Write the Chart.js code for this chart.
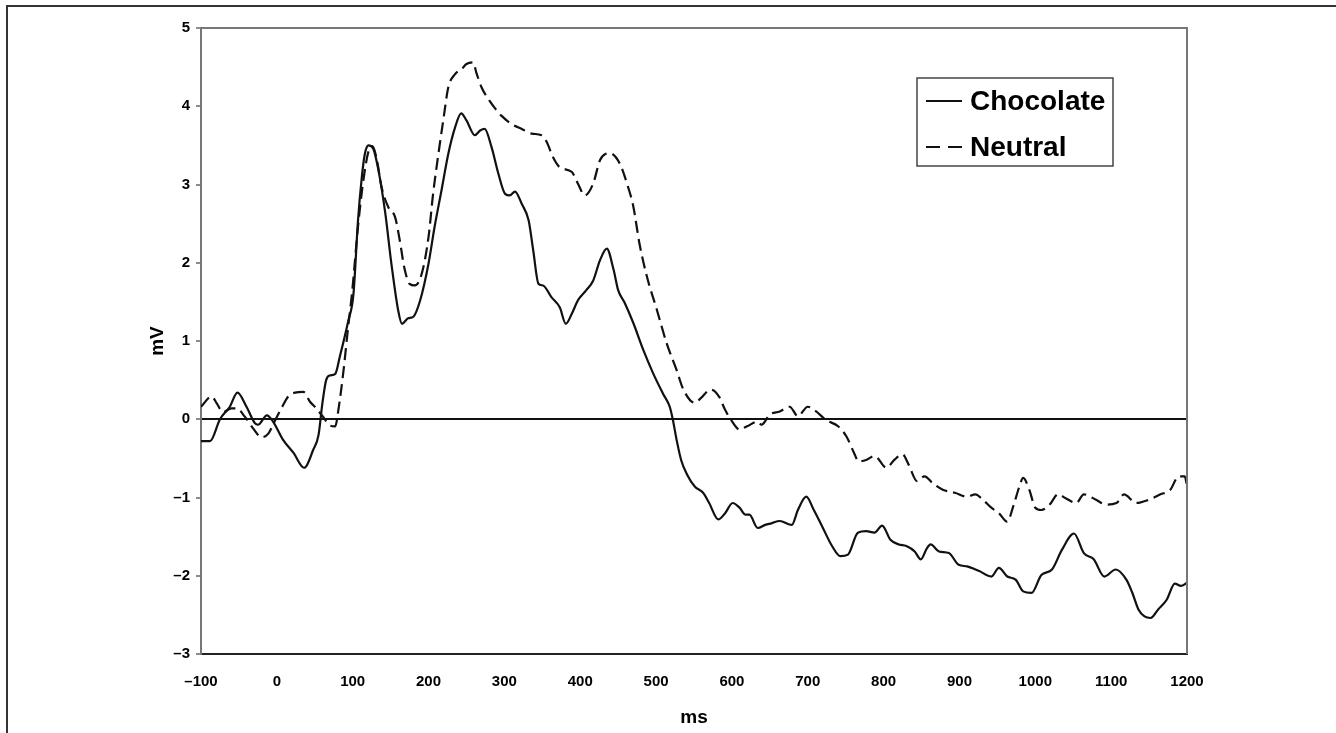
<!DOCTYPE html>
<html><head><meta charset="utf-8">
<script src="https://cdn.jsdelivr.net/npm/chart.js@4.4.1/dist/chart.umd.min.js"></script>
<style>
html,body{margin:0;padding:0;background:#fff;}
#wrap{position:relative;width:1336px;height:733px;overflow:hidden;}
#frame{position:absolute;left:6px;top:5px;right:-4px;bottom:-4px;border-top:2px solid #333;border-left:2px solid #333;pointer-events:none;}
canvas{position:absolute;left:0;top:0;}
</style></head><body>
<div id="wrap"><canvas id="c" width="1336" height="733"></canvas><div id="frame"></div></div>
<script>
// ---- data ----
const seriesLabels = ['Chocolate', 'Neutral'];
const xTickValues = [-100,0,100,200,300,400,500,600,700,800,900,1000,1100,1200];
const yTickValues = [-3,-2,-1,0,1,2,3,4,5];

const chocolateTime = [-100,-88,-75,-62,-52,-40,-29,-25,-13,-5,8,22,36,48,55,60,65,70,77,83,94,101,107,112,116,121,127,134,143,151,160,165,173,180,189,200,208,217,226,235,243,250,261,268,274,283,292,301,307,314,323,332,338,345,351,362,373,381,389,397,408,417,426,435,444,450,459,470,483,496,509,518,522,527,533,541,551,562,570,582,591,601,610,618,623,634,644,652,663,679,687,698,708,719,732,743,753,766,777,788,798,809,820,830,841,849,857,862,873,886,899,910,926,942,952,963,974,984,995,1008,1022,1035,1051,1064,1077,1091,1106,1120,1128,1136,1144,1152,1162,1173,1184,1192,1200];
const chocolateValues = [-0.28,-0.28,0,0.16,0.34,0.16,-0.05,-0.07,0.05,-0.03,-0.26,-0.43,-0.62,-0.39,-0.2,0.2,0.5,0.56,0.58,0.8,1.25,1.6,2.54,3.09,3.39,3.5,3.46,3.18,2.63,1.99,1.39,1.22,1.29,1.31,1.52,1.99,2.46,2.92,3.39,3.73,3.91,3.82,3.63,3.69,3.71,3.48,3.14,2.88,2.86,2.91,2.75,2.54,2.16,1.73,1.71,1.56,1.43,1.22,1.35,1.52,1.65,1.77,2.03,2.18,1.91,1.65,1.48,1.23,0.89,0.59,0.33,0.16,0,-0.26,-0.52,-0.71,-0.86,-0.94,-1.07,-1.28,-1.2,-1.07,-1.13,-1.22,-1.22,-1.39,-1.35,-1.33,-1.3,-1.35,-1.16,-0.99,-1.16,-1.37,-1.62,-1.75,-1.73,-1.45,-1.43,-1.45,-1.36,-1.54,-1.6,-1.62,-1.69,-1.79,-1.65,-1.6,-1.69,-1.71,-1.86,-1.88,-1.94,-2.01,-1.9,-2.01,-2.05,-2.2,-2.22,-1.99,-1.92,-1.67,-1.46,-1.71,-1.79,-2.01,-1.92,-2.05,-2.22,-2.43,-2.52,-2.54,-2.43,-2.31,-2.1,-2.13,-2.09];

const neutralTime = [-100,-86,-79,-71,-60,-53,-42,-31,-20,-11,-2,6,15,24,35,44,52,61,70,77,81,88,94,99,107,114,121,126,132,138,147,156,162,168,175,182,191,200,206,213,220,226,235,244,250,259,263,270,279,288,296,310,323,336,349,356,364,373,389,397,406,417,426,433,439,452,463,470,478,488,501,514,527,536,551,559,572,583,591,599,610,620,634,639,650,663,676,687,700,711,724,740,751,761,767,777,788,804,814,825,833,844,854,865,878,894,910,921,931,942,952,963,971,979,984,992,1000,1008,1019,1030,1040,1054,1064,1080,1093,1107,1117,1133,1149,1165,1178,1189,1197,1200];
const neutralValues = [0.16,0.29,0.2,0.09,0.14,0.14,0.03,-0.12,-0.23,-0.18,-0.01,0.14,0.29,0.34,0.35,0.22,0.14,0.03,-0.08,-0.09,0.11,0.63,1.18,1.6,2.46,3.05,3.43,3.49,3.31,2.97,2.71,2.58,2.29,1.94,1.73,1.71,1.86,2.33,2.88,3.39,3.86,4.24,4.41,4.48,4.54,4.56,4.43,4.24,4.09,3.97,3.88,3.77,3.71,3.65,3.63,3.54,3.35,3.22,3.16,3.01,2.86,3.01,3.31,3.39,3.4,3.27,2.97,2.72,2.25,1.82,1.4,0.97,0.63,0.38,0.21,0.27,0.38,0.29,0.12,-0.01,-0.13,-0.09,-0.03,-0.07,0.06,0.1,0.16,0.04,0.16,0.1,-0.01,-0.09,-0.22,-0.43,-0.54,-0.52,-0.47,-0.62,-0.52,-0.45,-0.58,-0.79,-0.73,-0.82,-0.9,-0.94,-0.99,-0.96,-1.03,-1.13,-1.2,-1.31,-1.11,-0.86,-0.75,-0.9,-1.13,-1.16,-1.09,-0.96,-1.01,-1.07,-0.96,-1.03,-1.09,-1.07,-0.96,-1.07,-1.03,-0.96,-0.9,-0.73,-0.73,-0.85];

// ---- chart ----
const FONT = '"Liberation Sans", Arial, Helvetica, sans-serif';
const toPts = (ts, vs) => ts.map((t, i) => ({x: t, y: vs[i]}));
const dash = s => String(s).replace('-', '\u2013');

const plotFrame = {
  id: 'plotFrame',
  afterDraw(chart) {
    const {ctx, chartArea: a} = chart;
    ctx.save();
    ctx.strokeStyle = '#777';
    ctx.lineWidth = 2;
    ctx.beginPath();
    ctx.moveTo(a.left, a.top);
    ctx.lineTo(a.right, a.top);
    ctx.lineTo(a.right, a.bottom);
    ctx.stroke();
    ctx.restore();
  }
};

const boxLegend = {
  id: 'boxLegend',
  afterDraw(chart) {
    const {ctx, chartArea: a} = chart;
    const left = a.left + 716, top = a.top + 50, w = 196, h = 88;
    ctx.save();
    ctx.fillStyle = '#fff';
    ctx.fillRect(left, top, w, h);
    ctx.strokeStyle = '#444';
    ctx.lineWidth = 1.5;
    ctx.strokeRect(left, top, w, h);
    chart.data.datasets.forEach((ds, i) => {
      const y = top + 23 + i * 46;
      ctx.beginPath();
      ctx.setLineDash(ds.borderDash ? [14, 8] : []);
      ctx.strokeStyle = ds.borderColor;
      ctx.lineWidth = 2.2;
      ctx.moveTo(left + 9, y);
      ctx.lineTo(left + 45, y);
      ctx.stroke();
      ctx.setLineDash([]);
      ctx.fillStyle = '#000';
      ctx.font = 'bold 28px ' + FONT;
      ctx.textBaseline = 'middle';
      ctx.textAlign = 'left';
      ctx.fillText(ds.label, left + 53, y + 1);
    });
    ctx.restore();
  }
};

new Chart(document.getElementById('c'), {
  type: 'line',
  data: {
    datasets: [
      {label: seriesLabels[0], data: toPts(chocolateTime, chocolateValues), borderColor: '#111', borderWidth: 2.2, pointRadius: 0, cubicInterpolationMode: 'monotone', fill: false},
      {label: seriesLabels[1], data: toPts(neutralTime, neutralValues), borderColor: '#111', borderWidth: 2.2, borderDash: [12, 6], pointRadius: 0, cubicInterpolationMode: 'monotone', fill: false}
    ]
  },
  options: {
    responsive: false,
    animation: false,
    devicePixelRatio: 1,
    layout: {padding: {left: 142, top: 28, right: 149, bottom: 0}},
    plugins: {legend: {display: false}, tooltip: {enabled: false}},
    scales: {
      x: {
        type: 'linear', min: -100, max: 1200,
        afterBuildTicks: s => { s.ticks = xTickValues.map(v => ({value: v})); },
        afterFit: s => { s.height = 79; },
        grid: {display: false},
        border: {display: true, color: '#222', width: 2},
        ticks: {color: '#000', padding: 11, maxRotation: 0, autoSkip: false, font: {family: FONT, size: 15, weight: 'bold'}, callback: v => dash(v)},
        title: {display: true, text: 'ms', color: '#000', padding: {top: 4, bottom: 4}, font: {family: FONT, size: 19, weight: 'bold'}}
      },
      y: {
        type: 'linear', min: -3, max: 5,
        afterBuildTicks: s => { s.ticks = yTickValues.map(v => ({value: v})); },
        afterFit: s => { s.width = 59; },
        grid: {
          display: true, drawOnChartArea: true, drawTicks: true, tickLength: 5,
          color: c => (c.tick && c.tick.value === 0) ? '#111' : 'rgba(0,0,0,0)',
          lineWidth: 2, tickColor: '#666', tickWidth: 1.5
        },
        border: {display: true, color: '#777', width: 2},
        ticks: {color: '#000', padding: 6, font: {family: FONT, size: 15, weight: 'bold'}, callback: v => dash(v)},
        title: {display: true, text: 'mV', color: '#000', padding: {top: 4, bottom: 4}, font: {family: FONT, size: 19, weight: 'bold'}}
      }
    }
  },
  plugins: [plotFrame, boxLegend]
});
</script>
</body></html>
